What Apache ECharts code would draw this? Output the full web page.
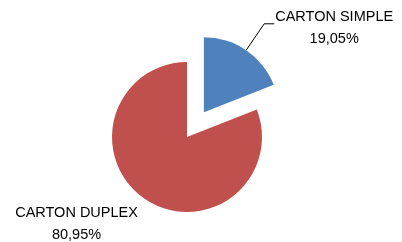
<!DOCTYPE html>
<html>
<head>
<meta charset="utf-8">
<script src="https://cdn.jsdelivr.net/npm/echarts@6/dist/echarts.min.js"></script>
<style>
html,body{margin:0;padding:0;background:#fff;}
#show{width:402px;height:242px;}
</style>
</head>
<body>
<div id="show"></div>
<script>
var names = ['CARTON SIMPLE', 'CARTON DUPLEX'];
var values = [19.05, 80.95];
var pctLabels = ['19,05%', '80,95%'];
var colors = ['#4F81BD', '#C0504D'];

var myChart = echarts.init(document.getElementById('show'));

var data = [];
for (var i = 0; i < names.length; i++) {
    data.push({
        name: names[i],
        value: values[i],
        selected: i === 0,
        itemStyle: { color: colors[i] }
    });
}
// label line only on the small slice
data[0].labelLine = { show: true, length: 32, length2: 10 };
data[1].labelLine = { show: false, length: 27, length2: 0 };

var option = {
    animation: false,
    series: [{
        type: 'pie',
        center: [187, 137],
        radius: 75,
        startAngle: 90,
        clockwise: true,
        selectedMode: 'single',
        selectedOffset: 30,
        label: {
            show: true,
            position: 'outside',
            alignTo: 'none',
            bleedMargin: 0,
            distanceToLabelLine: 2,
            formatter: function (p) {
                return '{a|' + p.name + '}\n{a|' + pctLabels[p.dataIndex] + '}';
            },
            rich: {
                a: {
                    fontFamily: 'Liberation Sans',
                    fontSize: 14.5,
                    color: '#000',
                    lineHeight: 22,
                    width: 116,
                    align: 'center'
                }
            }
        },
        labelLine: {
            lineStyle: { color: '#000', width: 1 },
            smooth: false
        },
        labelLayout: function (p) {
            if (p.dataIndex === 1) {
                return { dx: 7, dy: 3 };
            }
            return { dy: 4 };
        },
        emphasis: { disabled: true },
        data: data
    }]
};
myChart.setOption(option);
</script>
</body>
</html>
